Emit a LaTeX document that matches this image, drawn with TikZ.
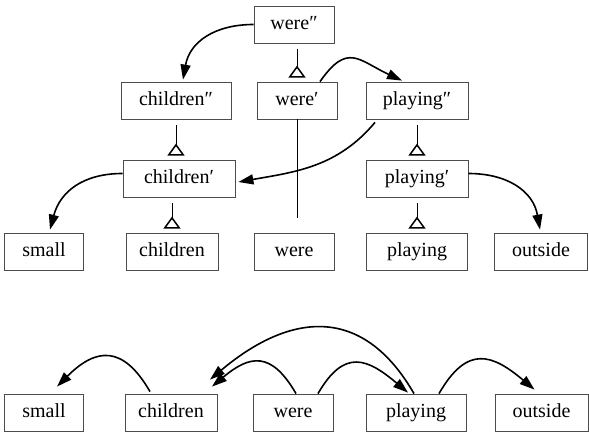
\documentclass[tikz,border=0pt]{standalone}
\usepackage{fontspec}
\setmainfont{Liberation Serif}
\newfontfamily\boxfont{Liberation Serif}
\usetikzlibrary{arrows.meta}
\tikzset{
  box/.style={draw=black!70, line width=0.8pt, minimum height=37pt, inner sep=0pt,
    text height=14pt, text depth=4.5pt, font=\boxfont\fontsize{20}{24}\selectfont},
  arc/.style={line width=1.6pt, -{Triangle[length=15pt,width=10pt]}},
  isa/.style={line width=0.8pt, shorten <=6pt, shorten >=4pt,
    -{Triangle[open,reversed,length=12pt,width=17pt,line width=1.5pt]}}
}
\begin{document}
\begin{tikzpicture}[x=1pt,y=1pt]
    \useasboundingbox (0,0) rectangle (589,432);

    \node[box, minimum width=80pt]  (wereB)     at (294,407.5) {were″};
    \node[box, minimum width=110pt] (childrenB) at (176,331.5) {children″};
    \node[box, minimum width=80pt]  (wereA)     at (297,331.5) {were′};
    \node[box, minimum width=102pt] (playingB)  at (417,331.5) {playing″};
    \node[box, minimum width=112pt] (childrenA) at (179,253.5) {children′};
    \node[box, minimum width=102pt] (playingA)  at (417,253.5) {playing′};
    \node[box, minimum width=79pt]  (small)     at (44,180.5)  {small};
    \node[box, minimum width=92pt]  (children)  at (172,180.5) {children};
    \node[box, minimum width=80pt]  (were)      at (294,180.5) {were};
    \node[box, minimum width=101pt] (playing)   at (417,180.5) {playing};
    \node[box, minimum width=93pt]  (outside)   at (541,180.5) {outside};

    \node[box, minimum width=79pt]  (smallL)    at (44,19.5)    {small};
    \node[box, minimum width=92pt]  (childrenL) at (171,19.5)   {children};
    \node[box, minimum width=80pt]  (wereL)     at (293,19.5)   {were};
    \node[box, minimum width=100pt] (playingL)  at (416,19.5)   {playing};
    \node[box, minimum width=93pt]  (outsideL)  at (541.5,19.5) {outside};

    \draw[isa] (wereB.south -| wereA.north) -- (wereA.north);
    \draw[isa] (childrenB.south) -- (childrenB.south |- childrenA.north);
    \draw[isa] (childrenA.south -| children.north) -- (children.north);
    \draw[isa] (playingB.south) -- (playingA.north);
    \draw[isa] (playingA.south) -- (playing.north);
    \draw[line width=0.8pt, shorten >=15pt] (wereA.south) -- (wereA.south |- were.north);

    \draw[arc] (wereB.west) to[out=180,in=80,looseness=1.1] ([xshift=7pt,yshift=2pt]childrenB.north);
    \draw[arc] ([xshift=23pt]wereA.north) to[out=55,in=155,looseness=1.5] ([xshift=-15pt,yshift=1pt]playingB.north);
    \draw[arc] ([xshift=-42pt,yshift=-3pt]playingB.south) to[out=-130,in=10] ([xshift=3pt,yshift=-3.5pt]childrenA.east);
    \draw[arc] ([yshift=5pt]childrenA.west) to[out=180,in=75,looseness=1.1] ([xshift=6pt,yshift=3pt]small.north);
    \draw[arc] ([yshift=5pt]playingA.east) to[out=0,in=100,looseness=1.1] ([xshift=-1pt,yshift=3pt]outside.north);

    \draw[arc] ([xshift=-21pt,yshift=2pt]childrenL.north) to[out=120,in=45,looseness=1.5] ([xshift=13pt,yshift=7pt]smallL.north);
    \draw[arc] ([xshift=3pt]wereL.north) to[out=120,in=40,looseness=1.5] ([xshift=41pt,yshift=7pt]childrenL.north);
    \draw[arc] ([xshift=-2pt]playingL.north) to[out=120,in=40,looseness=1.3] ([xshift=39pt,yshift=14pt]childrenL.north);
    \draw[arc] ([xshift=25pt]wereL.north) to[out=60,in=140,looseness=1.5] ([xshift=-8pt,yshift=1pt]playingL.north);
    \draw[arc] ([xshift=23pt]playingL.north) to[out=60,in=140,looseness=1.5] ([xshift=-7pt,yshift=4pt]outsideL.north);
\end{tikzpicture}
\end{document}
